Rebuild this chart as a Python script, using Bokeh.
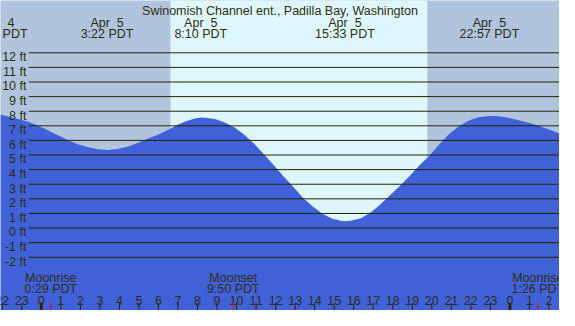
from bokeh.plotting import figure
from bokeh.models import Range1d
from bokeh.embed import file_html
from bokeh.resources import INLINE
from bokeh.core.properties import value

# ---------------- data ----------------
title = "Swinomish Channel ent., Padilla Bay, Washington"

tide_hour = [-2.1, -1.6, -1.1, -0.6, -0.1, 0.4, 0.9, 1.4, 1.9, 2.4, 2.9, 3.4, 3.9,
             4.4, 4.9, 5.4, 5.9, 6.4, 6.9, 7.4, 7.9, 8.2, 8.4, 8.9, 9.4, 9.9, 10.4,
             10.9, 11.4, 11.9, 12.4, 12.9, 13.4, 13.9, 14.4, 14.9, 15.4, 15.6, 15.9,
             16.4, 16.9, 17.4, 17.9, 18.4, 18.9, 19.4, 19.9, 20.4, 20.9, 21.4, 21.9,
             22.4, 22.95, 23.4, 23.9, 24.4, 24.9, 25.4, 25.9, 26.4, 26.6]
tide_ft = [7.78, 7.60, 7.43, 7.24, 6.97, 6.65, 6.32, 5.99, 5.72, 5.53, 5.40, 5.35, 5.41,
           5.56, 5.80, 6.09, 6.35, 6.67, 7.02, 7.32, 7.51, 7.57, 7.56, 7.47, 7.22, 6.88, 6.38,
           5.77, 5.06, 4.31, 3.54, 2.82, 2.08, 1.47, 0.98, 0.64, 0.49, 0.46, 0.51,
           0.69, 1.10, 1.66, 2.30, 2.93, 3.62, 4.33, 4.98, 5.76, 6.45, 6.99, 7.37,
           7.59, 7.67, 7.65, 7.56, 7.40, 7.23, 7.04, 6.80, 6.55, 6.45]

extreme_hour = [-2.233, 3.367, 8.167, 15.55, 22.95]
extreme_date = ["Apr \u00a04", "Apr \u00a05", "Apr \u00a05", "Apr \u00a05", "Apr \u00a05"]
extreme_time = ["21:46 PDT", "3:22 PDT", "8:10 PDT", "15:33 PDT", "22:57 PDT"]

moon_hour = [0.483, 9.833, 25.433]
moon_event = ["Moonrise", "Moonset", "Moonrise"]
moon_time = ["0:29 PDT", "9:50 PDT", "1:26 PDT"]

sunrise_hour = 6.617
sunset_hour = 19.767

grid_ft = list(range(-2, 13))
grid_labels = [f"{v} ft" for v in grid_ft]

hour_ticks = list(range(-2, 27))
hour_labels = [str(h % 24) for h in hour_ticks]
midnight_hours = [0, 24]

# ---------------- layout ----------------
X0, X1 = -2.091, 26.54
Y0, Y1 = -5.645, 15.58
TITLE_Y = 14.86
DATE_Y = 14.02
TIME_Y = 13.27
MOON1_Y = -3.45
MOON2_Y = -4.17
HOUR_LABEL_Y = -4.97
TICK_TOP = -5.12
FT_LABEL_X = -0.76
GRID_X0 = -0.647

NIGHT = "#B0C4DE"
DAY = "#DEF7FE"
WATER = "#4161D8"
LINE = "#262600"
TEXT = "#2e2e10"
FONT = value("Liberation Sans")
FS = "12.5px"

p = figure(width=559, height=310, output_backend="svg", toolbar_location=None,
           x_range=Range1d(X0, X1), y_range=Range1d(Y0, Y1), min_border=0)
p.axis.visible = False
p.grid.visible = False
p.outline_line_color = None
p.background_fill_color = NIGHT
p.border_fill_color = NIGHT

p.quad(left=[sunrise_hour], right=[sunset_hour], bottom=[Y0], top=[Y1],
       fill_color=DAY, line_color=None)

p.varea(x=tide_hour, y1=[Y0] * len(tide_hour), y2=tide_ft, fill_color=WATER)

p.segment(x0=[GRID_X0] * len(grid_ft), y0=grid_ft, x1=[X1 + 1] * len(grid_ft), y1=grid_ft,
          line_color=LINE, line_width=1)
p.text(x=[FT_LABEL_X] * len(grid_ft), y=grid_ft, text=grid_labels, text_align="right",
       text_baseline="alphabetic", y_offset=4.4, text_font=FONT, text_font_size=FS,
       text_color=TEXT)

p.text(x=[(X0 + X1) / 2], y=[TITLE_Y], text=[title], text_align="center",
       text_baseline="alphabetic", text_font=FONT, text_font_size=FS, text_color=TEXT)

p.text(x=extreme_hour, y=[DATE_Y] * len(extreme_hour), text=extreme_date,
       text_align="center", text_baseline="alphabetic", text_font=FONT,
       text_font_size=FS, text_color=TEXT)
p.text(x=extreme_hour, y=[TIME_Y] * len(extreme_hour), text=extreme_time,
       text_align="center", text_baseline="alphabetic", text_font=FONT,
       text_font_size=FS, text_color=TEXT)

p.text(x=moon_hour, y=[MOON1_Y] * len(moon_hour), text=moon_event,
       text_align="center", text_baseline="alphabetic", text_font=FONT,
       text_font_size=FS, text_color=TEXT)
p.text(x=moon_hour, y=[MOON2_Y] * len(moon_hour), text=moon_time,
       text_align="center", text_baseline="alphabetic", text_font=FONT,
       text_font_size=FS, text_color=TEXT)

p.text(x=hour_ticks, y=[HOUR_LABEL_Y] * len(hour_ticks), text=hour_labels,
       text_align="center", text_baseline="alphabetic", text_font=FONT,
       text_font_size=FS, text_color=TEXT)

p.segment(x0=hour_ticks, y0=[TICK_TOP] * len(hour_ticks), x1=hour_ticks,
          y1=[Y0] * len(hour_ticks), line_color=LINE, line_width=1)
p.segment(x0=midnight_hours, y0=[TICK_TOP] * 2, x1=midnight_hours, y1=[Y0] * 2,
          line_color=LINE, line_width=3)
p.segment(x0=moon_hour, y0=[TICK_TOP] * len(moon_hour), x1=moon_hour,
          y1=[Y0] * len(moon_hour), line_color="#ff0000", line_width=1)

open("out.html", "w").write(file_html(p, INLINE))
